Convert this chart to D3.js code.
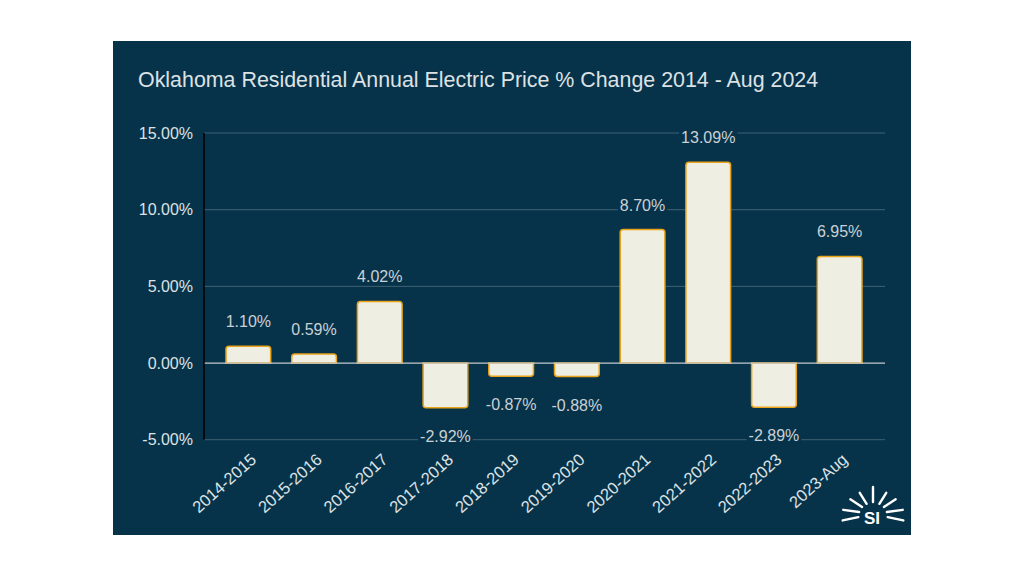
<!DOCTYPE html>
<html><head><meta charset="utf-8">
<script src="https://cdn.jsdelivr.net/npm/d3@7"></script>
<style>body{margin:0;background:#fff;}svg{display:block;font-family:"Liberation Sans", Arial, sans-serif;}</style>
</head><body><svg id="c" width="1024" height="576"></svg>
<script>
const categories = ["2014-2015","2015-2016","2016-2017","2017-2018","2018-2019","2019-2020","2020-2021","2021-2022","2022-2023","2023-Aug"];
const values = [1.10, 0.59, 4.02, -2.92, -0.87, -0.88, 8.70, 13.09, -2.89, 6.95];
const yTicks = [-5, 0, 5, 10, 15];
const title = "Oklahoma Residential Annual Electric Price % Change 2014 - Aug 2024";

const svg = d3.select("#c");
const bg = "#07334a";
svg.append("rect").attr("x",113).attr("y",41).attr("width",798).attr("height",494).attr("fill",bg);

svg.append("text").attr("x",138).attr("y",87).attr("fill","#dde2e5").attr("font-size",21.4).text(title);

const x = d3.scaleBand().domain(categories).range([215.5, 872.5]).paddingInner(0.32).paddingOuter(0.16);
const y = d3.scaleLinear().domain([-5, 15]).range([439.7, 133]);
const fmt = v => v.toFixed(2) + "%";

// gridlines
const g = svg.append("g");
g.selectAll("line.grid").data(yTicks.filter(t => t !== 0)).join("line")
  .attr("x1",204).attr("x2",885).attr("y1",d=>y(d)).attr("y2",d=>y(d))
  .attr("stroke","#3f6272").attr("stroke-width",1);
// y tick labels
g.selectAll("text.yt").data(yTicks).join("text")
  .attr("x",193).attr("y",d=>y(d)+5.5).attr("text-anchor","end")
  .attr("fill","#dde2e5").attr("font-size",16).text(d=>d.toFixed(2)+"%");

// bars with rounded outer corners
const r = 3;
function barPath(d, i){
  const x0 = x(categories[i]), w = x.bandwidth();
  const y0 = y(0), y1 = y(d);
  if (d >= 0){
    return `M${x0},${y0} V${y1+r} Q${x0},${y1} ${x0+r},${y1} H${x0+w-r} Q${x0+w},${y1} ${x0+w},${y1+r} V${y0} Z`;
  } else {
    return `M${x0},${y0} V${y1-r} Q${x0},${y1} ${x0+r},${y1} H${x0+w-r} Q${x0+w},${y1} ${x0+w},${y1-r} V${y0} Z`;
  }
}
svg.append("g").selectAll("path").data(values).join("path")
  .attr("d",(d,i)=>barPath(d,i)).attr("fill","#eeeee2").attr("stroke","#e8a31a").attr("stroke-width",1.5);

// zero line
svg.append("line").attr("x1",204).attr("x2",885).attr("y1",y(0)).attr("y2",y(0)).attr("stroke","#c5ccd0").attr("stroke-width",1.3);
// axis line
svg.append("line").attr("x1",204).attr("x2",204).attr("y1",y(15)).attr("y2",y(-5)).attr("stroke","#000").attr("stroke-width",1.5);

// value labels with background
const lg = svg.append("g");
values.forEach((v,i)=>{
  const cx = x(categories[i]) + x.bandwidth()/2;
  const by = v >= 0 ? y(v) - 19 : y(v) + 34;
  const t = lg.append("text").attr("x",cx).attr("y",by).attr("text-anchor","middle")
    .attr("fill","#c9d1d5").attr("font-size",16).text(fmt(v));
  const bb = t.node().getBBox();
  lg.insert("rect","text").attr("x",bb.x-2).attr("y",bb.y+1).attr("width",bb.width+4).attr("height",bb.height-2).attr("fill",bg);
});

// x labels rotated
svg.append("g").selectAll("text").data(categories).join("text")
  .attr("transform",d=>`translate(${x(d)+x.bandwidth()/2+9},${461}) rotate(-42)`)
  .attr("text-anchor","end").attr("fill","#dde2e5").attr("font-size",16.5).text(d=>d);

// logo
const lx = 873, ly = 514;
const logo = svg.append("g");
const rays = [[-12,15,31],[8,14,30],[33,13,27],[58,12,25],[90,12,27],[122,12,25],[147,13,27],[172,14,30],[192,15,31]];
rays.forEach(([a,r1,r2])=>{
  const rad = a*Math.PI/180;
  logo.append("line")
    .attr("x1",lx+r1*Math.cos(rad)).attr("y1",ly-r1*Math.sin(rad))
    .attr("x2",lx+r2*Math.cos(rad)).attr("y2",ly-r2*Math.sin(rad))
    .attr("stroke","#fff").attr("stroke-width",2.4).attr("stroke-linecap","round");
});
logo.append("text").attr("x",lx-1).attr("y",ly+10).attr("text-anchor","middle").attr("fill","#fff")
  .attr("font-size",17).attr("font-weight","bold").text("SI");
</script></body></html>
